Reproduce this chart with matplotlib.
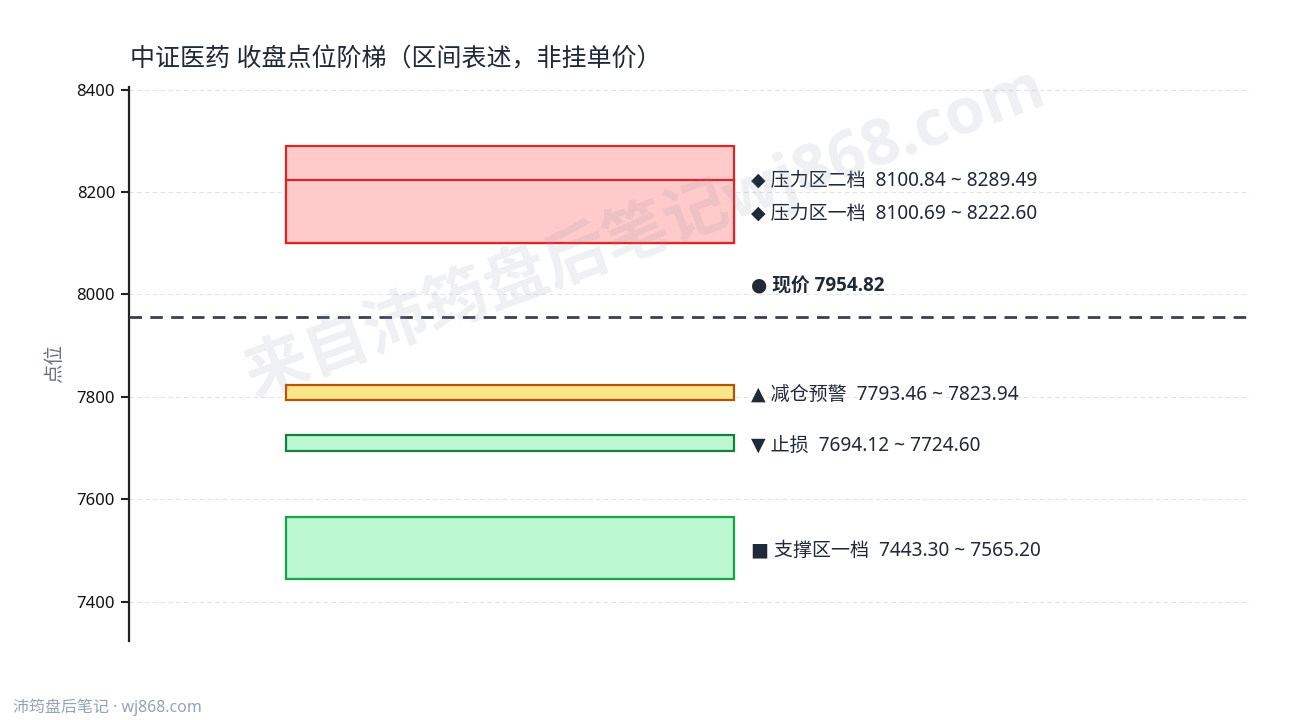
import matplotlib
matplotlib.use("Agg")
import matplotlib.pyplot as plt
from matplotlib.patches import Rectangle

plt.rcParams['font.family'] = ['Noto Sans', 'DejaVu Sans', 'Noto Sans CJK SC']
BOLD_FAMILY = ['Open Sans', 'DejaVu Sans', 'Noto Sans CJK SC']

title = "中证医药 收盘点位阶梯（区间表述，非挂单价）"
zone_names = ["压力区二档", "压力区一档", "减仓预警", "止损", "支撑区一档"]
zone_symbols = ["◆", "◆", "▲", "▼", "■"]
zone_low = [8100.84, 8100.69, 7793.46, 7694.12, 7443.30]
zone_high = [8289.49, 8222.60, 7823.94, 7724.60, 7565.20]
zone_label_y = [8222, 8158, 7805, 7705, 7500]
zone_face = ["#FECACA", "#FECACA", "#FDE68A", "#BBF7D0", "#BBF7D0"]
zone_edge = ["#DC2626", "#DC2626", "#B45309", "#15803D", "#16A34A"]
price = 7954.82
price_label_y = 8015
yticks = [7400, 7600, 7800, 8000, 8200, 8400]
ylim = (7323, 8405)

fig = plt.figure(figsize=(12.9, 7.2), dpi=100)
ax = fig.add_axes([0.1, 0.1097, 0.869, 0.7695])
ax.set_xlim(0, 1)
ax.set_ylim(*ylim)

x0, x1 = 0.14, 0.54
for lo, hi, fc, ec in zip(zone_low, zone_high, zone_face, zone_edge):
    ax.add_patch(Rectangle((x0, lo), x1 - x0, hi - lo, facecolor=fc,
                           edgecolor=ec, linewidth=1.6, zorder=3))

text_color = "#1F2937"
for sym, name, lo, hi, ly in zip(zone_symbols, zone_names, zone_low, zone_high, zone_label_y):
    ax.text(0.555, ly, f"{sym} {name}  {lo:.2f} ~ {hi:.2f}", fontsize=13.7,
            color=text_color, va="center", ha="left", zorder=5)

ax.axhline(price, color="#374151", linewidth=2, dashes=(4.5, 3), zorder=4)
ax.text(0.555, price_label_y, f"● 现价 {price:.2f}", fontsize=13.5,
        fontweight="bold", family=BOLD_FAMILY, color=text_color,
        va="center", ha="left", zorder=5)

ax.set_yticks(yticks)
ax.set_yticklabels([str(t) for t in yticks], fontsize=12, color="#111111")
ax.set_xticks([])
ax.tick_params(axis="y", length=6, width=1.5, color="#222222", pad=4)
ax.grid(axis="y", color="#E2E4E8", linestyle=(0, (4, 3)), linewidth=0.8, zorder=0)
ax.set_axisbelow(True)
for s in ["top", "right", "bottom"]:
    ax.spines[s].set_visible(False)
ax.spines["left"].set_linewidth(1.6)
ax.spines["left"].set_color("#222222")

ax.set_ylabel("点位", fontsize=14, color="#6B7280", labelpad=8)

fig.text(130 / 1290, 1 - 60 / 720, title, fontsize=18, color=text_color,
         ha="left", va="center")

fig.text(645 / 1290, 1 - 232 / 720, "来自沛筠盘后笔记wj868.com", fontsize=46,
         fontweight="bold", family=BOLD_FAMILY, color="#8A93A8", alpha=0.14,
         rotation=20.3, ha="center", va="center", zorder=10)

fig.text(13 / 1290, 1 - 707 / 720, "沛筠盘后笔记 · wj868.com", fontsize=11.5,
         color="#94A3B8", ha="left", va="center")

fig.savefig("out.png", dpi=100)
